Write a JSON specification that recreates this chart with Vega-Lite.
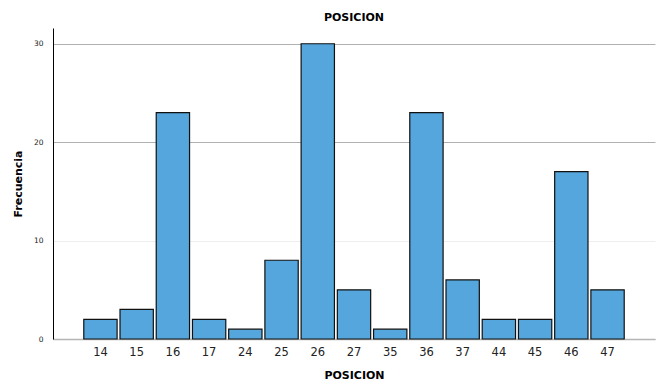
{
  "$schema": "https://vega.github.io/schema/vega-lite/v6.json",
  "autosize": {"type": "none"},
  "width": 602,
  "height": 311,
  "padding": {"left": 53, "top": 28, "right": 9, "bottom": 53},
  "background": "white",
  "title": {"text": "POSICION", "font": "DejaVu Sans", "fontSize": 11, "fontWeight": "bold", "color": "#000", "anchor": "middle", "offset": 5},
  "data": {"values": [
    {"POSICION": "14", "Frecuencia": 2},
    {"POSICION": "15", "Frecuencia": 3},
    {"POSICION": "16", "Frecuencia": 23},
    {"POSICION": "17", "Frecuencia": 2},
    {"POSICION": "24", "Frecuencia": 1},
    {"POSICION": "25", "Frecuencia": 8},
    {"POSICION": "26", "Frecuencia": 30},
    {"POSICION": "27", "Frecuencia": 5},
    {"POSICION": "35", "Frecuencia": 1},
    {"POSICION": "36", "Frecuencia": 23},
    {"POSICION": "37", "Frecuencia": 6},
    {"POSICION": "44", "Frecuencia": 2},
    {"POSICION": "45", "Frecuencia": 2},
    {"POSICION": "46", "Frecuencia": 17},
    {"POSICION": "47", "Frecuencia": 5}
  ]},
  "config": {"view": {"stroke": null}},
  "mark": {"type": "bar", "color": "#55a6dc", "stroke": "#111", "strokeWidth": 1.2},
  "encoding": {
    "x": {
      "field": "POSICION", "type": "ordinal", "sort": null,
      "scale": {"paddingInner": 0.08, "paddingOuter": 0.85},
      "axis": {
        "title": "POSICION", "titleFont": "DejaVu Sans", "titleFontSize": 11, "titleFontWeight": "bold", "titleColor": "#000", "titlePadding": 12,
        "labelAngle": 0, "labelFont": "DejaVu Sans", "labelFontSize": 11.5, "labelColor": "#222", "labelPadding": 7,
        "ticks": false, "domainColor": "#b5b5b5", "domainWidth": 1.5
      }
    },
    "y": {
      "field": "Frecuencia", "type": "quantitative",
      "scale": {"domain": [0, 31.6], "nice": false},
      "axis": {
        "title": "Frecuencia", "titleFont": "DejaVu Sans", "titleFontSize": 11, "titleFontWeight": "bold", "titleColor": "#000", "titlePadding": 10,
        "values": [0, 10, 20, 30], "labelFont": "DejaVu Sans", "labelFontSize": 7.5, "labelColor": "#222", "labelPadding": 10,
        "ticks": false, "domainColor": "#000", "domainWidth": 1,
        "grid": true, "gridColor": {"condition": {"test": "datum.value == 10", "value": "#eeeeee"}, "value": "#b0b0b0"}, "gridWidth": 1
      }
    }
  }
}
